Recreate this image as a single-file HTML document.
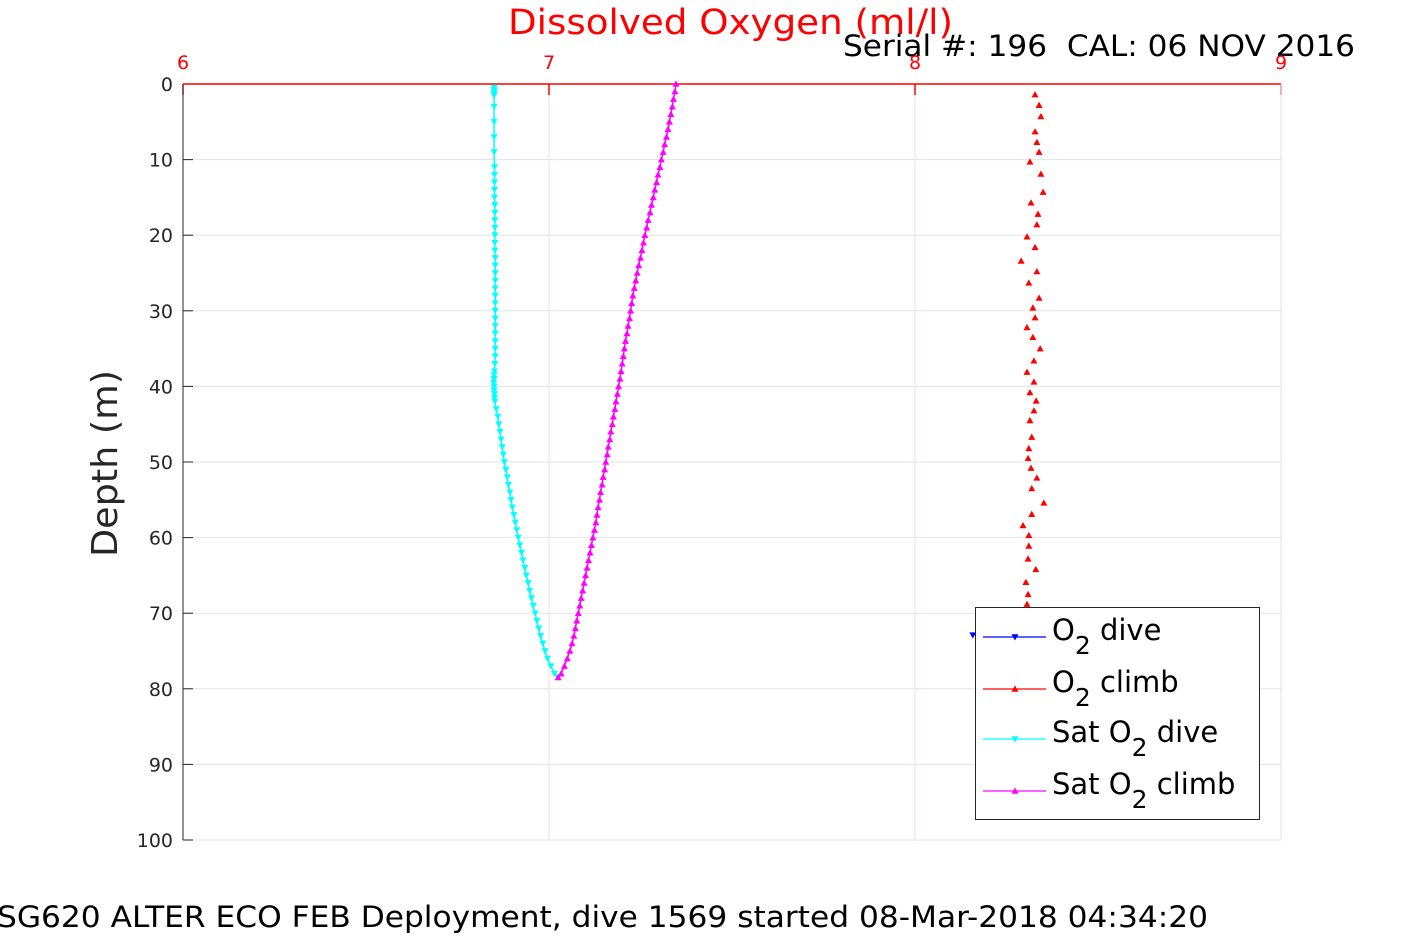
<!DOCTYPE html>
<html><head><meta charset="utf-8"><style>
html,body{margin:0;padding:0;background:#fff;}
svg{display:block;font-family:"DejaVu Sans","Liberation Sans",sans-serif;}
</style></head><body>
<svg id="chart" width="1417" height="945" xmlns="http://www.w3.org/2000/svg">
<text x="508" y="34" font-size="35" fill="#ff0000" textLength="445" lengthAdjust="spacingAndGlyphs">Dissolved Oxygen (ml/l)</text>
<text x="843" y="56" font-size="29" fill="#000" textLength="512" lengthAdjust="spacingAndGlyphs" xml:space="preserve">Serial #: 196  CAL: 06 NOV 2016</text>
<text transform="translate(117,557) rotate(-90)" font-size="36" fill="#262626" textLength="187" lengthAdjust="spacingAndGlyphs">Depth (m)</text>
<text x="-3" y="927" font-size="29" fill="#000" textLength="1211" lengthAdjust="spacingAndGlyphs">SG620 ALTER ECO FEB Deployment, dive 1569 started 08-Mar-2018 04:34:20</text>
<g id="grid"></g>
<g id="axes"></g>
<g id="series"></g>
<g id="legend"></g>
</svg>
<script>
const xTicks = [6, 7, 8, 9];
const yTicks = [0, 10, 20, 30, 40, 50, 60, 70, 80, 90, 100];
const o2DiveDepth = [72.9];
const o2DiveValue = [8.158];
const o2ClimbDepth = [1.4,2.8,4.3,6.3,7.7,9.0,10.3,11.9,14.3,15.7,17.2,18.6,20.2,21.6,23.4,24.8,26.3,28.3,29.6,30.9,32.2,33.5,35.0,36.6,38.1,39.4,40.8,41.9,43.2,44.5,46.7,48.2,49.5,50.8,52.1,53.5,55.4,56.9,58.4,59.7,61.1,62.8,64.2,65.9,67.5,68.8,70.3,71.8];
const o2ClimbValue = [8.328,8.339,8.344,8.328,8.333,8.339,8.314,8.344,8.350,8.317,8.336,8.333,8.306,8.328,8.290,8.333,8.311,8.339,8.322,8.328,8.306,8.322,8.342,8.325,8.306,8.325,8.314,8.331,8.325,8.314,8.319,8.311,8.309,8.317,8.333,8.319,8.352,8.319,8.295,8.311,8.311,8.309,8.330,8.303,8.309,8.306,8.310,8.306];
const satDiveDepth = [0.5,0.8,1,1.3,1.5,3,5,7,9,11,12,13,14,15,16,17,18,19,20,21,22,23,24,25,26,27,28,29,30,31,32,33,34,35,36,37,38,38.5,39,39.5,40,40.5,41,41.5,42,43,44,45,46,47,48,49,50,51,52,53,54,55,56,57,58,59,60,61,62,63,64,65,66,67,68,69,70,71,72,73,74,75,76,77,78,78.5];
const satDiveValue = [6.850,6.850,6.850,6.850,6.850,6.850,6.850,6.850,6.850,6.851,6.851,6.851,6.851,6.851,6.852,6.852,6.852,6.852,6.852,6.852,6.852,6.853,6.853,6.853,6.853,6.853,6.853,6.853,6.853,6.853,6.853,6.853,6.853,6.853,6.853,6.852,6.851,6.850,6.850,6.849,6.850,6.850,6.851,6.851,6.852,6.856,6.860,6.863,6.866,6.869,6.872,6.875,6.878,6.882,6.886,6.889,6.893,6.896,6.900,6.904,6.908,6.912,6.916,6.920,6.925,6.929,6.934,6.938,6.943,6.947,6.952,6.957,6.962,6.967,6.972,6.977,6.983,6.989,6.996,7.005,7.015,7.025];
const satClimbDepth = [78.5,78,77,76,75,74,73,72,71,70,69,68,67,66,65,64,63,62,61,60,59,58,57,56,55,54,53,52,51,50,49,48,47,46,45,44,43,42,41,40,39,38,37,36,35,34,33,32,31,30,29,28,27,26,25,24,23,22,21,20,19,18,17,16,15,14,13,12,11,10,9,8,7,6,5,4,3,2,1,0];
const satClimbValue = [7.025,7.033,7.042,7.050,7.057,7.063,7.068,7.072,7.076,7.080,7.084,7.088,7.092,7.096,7.100,7.104,7.108,7.112,7.116,7.120,7.124,7.128,7.131,7.134,7.138,7.141,7.145,7.148,7.152,7.155,7.159,7.162,7.166,7.169,7.173,7.176,7.180,7.183,7.187,7.190,7.194,7.197,7.200,7.203,7.206,7.209,7.213,7.216,7.220,7.223,7.226,7.229,7.233,7.237,7.241,7.245,7.250,7.254,7.258,7.262,7.267,7.271,7.276,7.280,7.285,7.289,7.294,7.298,7.303,7.307,7.312,7.316,7.321,7.325,7.329,7.333,7.337,7.340,7.344,7.347];

const NS = "http://www.w3.org/2000/svg";
const L = 183, R = 1281, T = 84, B = 840;
const xs = v => L + (v - 6) / 3 * (R - L);
const ys = d => T + d / 100 * (B - T);
function mk(tag, attrs, parent) {
  const e = document.createElementNS(NS, tag);
  for (const k in attrs) e.setAttribute(k, attrs[k]);
  parent.appendChild(e);
  return e;
}
const grid = document.getElementById('grid');
const axes = document.getElementById('axes');
const series = document.getElementById('series');
const legend = document.getElementById('legend');

yTicks.forEach(t => {
  const g = mk('line', {x1: L, x2: R, y1: ys(t), y2: ys(t), stroke: '#e3e3e3', 'stroke-width': 1}, grid);
  
  
  const tk = mk('line', {x1: L, x2: L + 10, y1: ys(t), y2: ys(t), stroke: '#262626', 'stroke-width': 1}, axes);
  
  
  const lb = mk('text', {x: L - 10, y: ys(t) + 7, 'font-size': 19, fill: '#262626', 'text-anchor': 'end'}, axes);
  lb.textContent = t;
  
  
});
xTicks.forEach(t => {
  const g = mk('line', {x1: xs(t), x2: xs(t), y1: T, y2: B, stroke: '#f0dede', 'stroke-width': 1}, grid);
  
  
  const tk = mk('line', {x1: xs(t), x2: xs(t), y1: T, y2: T + 11, stroke: '#ff0000', 'stroke-width': 1.5}, axes);
  
  
  const lb = mk('text', {x: xs(t), y: 69, 'font-size': 19, fill: '#ff0000', 'text-anchor': 'middle'}, axes);
  lb.textContent = t;
  
  
});
const la = mk('line', {x1: L, x2: L, y1: T, y2: B, stroke: '#262626', 'stroke-width': 1}, axes);


const ta = mk('line', {x1: L, x2: R, y1: T, y2: T, stroke: '#ff0000', 'stroke-width': 1.5}, axes);


const ra = mk('line', {x1: R, x2: R, y1: T, y2: B, stroke: '#e3e3e3', 'stroke-width': 1}, axes);



function tri(x, y, up, s) {
  return up ? `M${x - s},${y + s * 0.8}L${x + s},${y + s * 0.8}L${x},${y - s}Z`
            : `M${x - s},${y - s * 0.8}L${x + s},${y - s * 0.8}L${x},${y + s}Z`;
}
function drawSeries(depths, vals, color, up, line, name) {
  const g = mk('g', {}, series);
  
  
  if (line) {
    const pts = depths.map((d, i) => xs(vals[i]) + ',' + ys(d)).join(' ');
    const pl = mk('polyline', {points: pts, fill: 'none', stroke: color, 'stroke-width': 1.5}, g);
    
    
  }
  depths.forEach((d, i) => {
    const p = mk('path', {d: tri(xs(vals[i]), ys(d), up, 3.5), fill: color}, g);
    
    
  });
}
drawSeries(satDiveDepth, satDiveValue, '#00ffff', false, true, 'sat-o2-dive');
drawSeries(satClimbDepth, satClimbValue, '#ff00ff', true, true, 'sat-o2-climb');
drawSeries(o2ClimbDepth, o2ClimbValue, '#ff0000', true, false, 'o2-climb');
drawSeries(o2DiveDepth, o2DiveValue, '#0000ff', false, false, 'o2-dive');

const box = mk('rect', {x: 975.5, y: 607.5, width: 284, height: 212, fill: '#fff', stroke: '#262626', 'stroke-width': 1}, legend);


const entries = [
  ['#0000ff', false, 'O', ' dive', 637],
  ['#ff0000', true, 'O', ' climb', 689],
  ['#00ffff', false, 'Sat O', ' dive', 739],
  ['#ff00ff', true, 'Sat O', ' climb', 791]
];
entries.forEach(e => {
  const g = mk('g', {}, legend);
  
  
  const y = e[4];
  mk('line', {x1: 983, x2: 1046, y1: y, y2: y, stroke: e[0], 'stroke-width': 1.2}, g);
  mk('path', {d: tri(1015, y, e[1], 3.5), fill: e[0]}, g);
  const t = mk('text', {x: 1052, y: y + 3, 'font-size': 29, fill: '#000', 'xml:space': 'preserve'}, g);
  
  
  const a = mk('tspan', {}, t); a.textContent = e[2];
  const b = mk('tspan', {dy: 14, 'font-size': 25}, t); b.textContent = '2';
  const c = mk('tspan', {dy: -14}, t); c.textContent = '\u00a0' + e[3].trim();
});
</script>
</body></html>
